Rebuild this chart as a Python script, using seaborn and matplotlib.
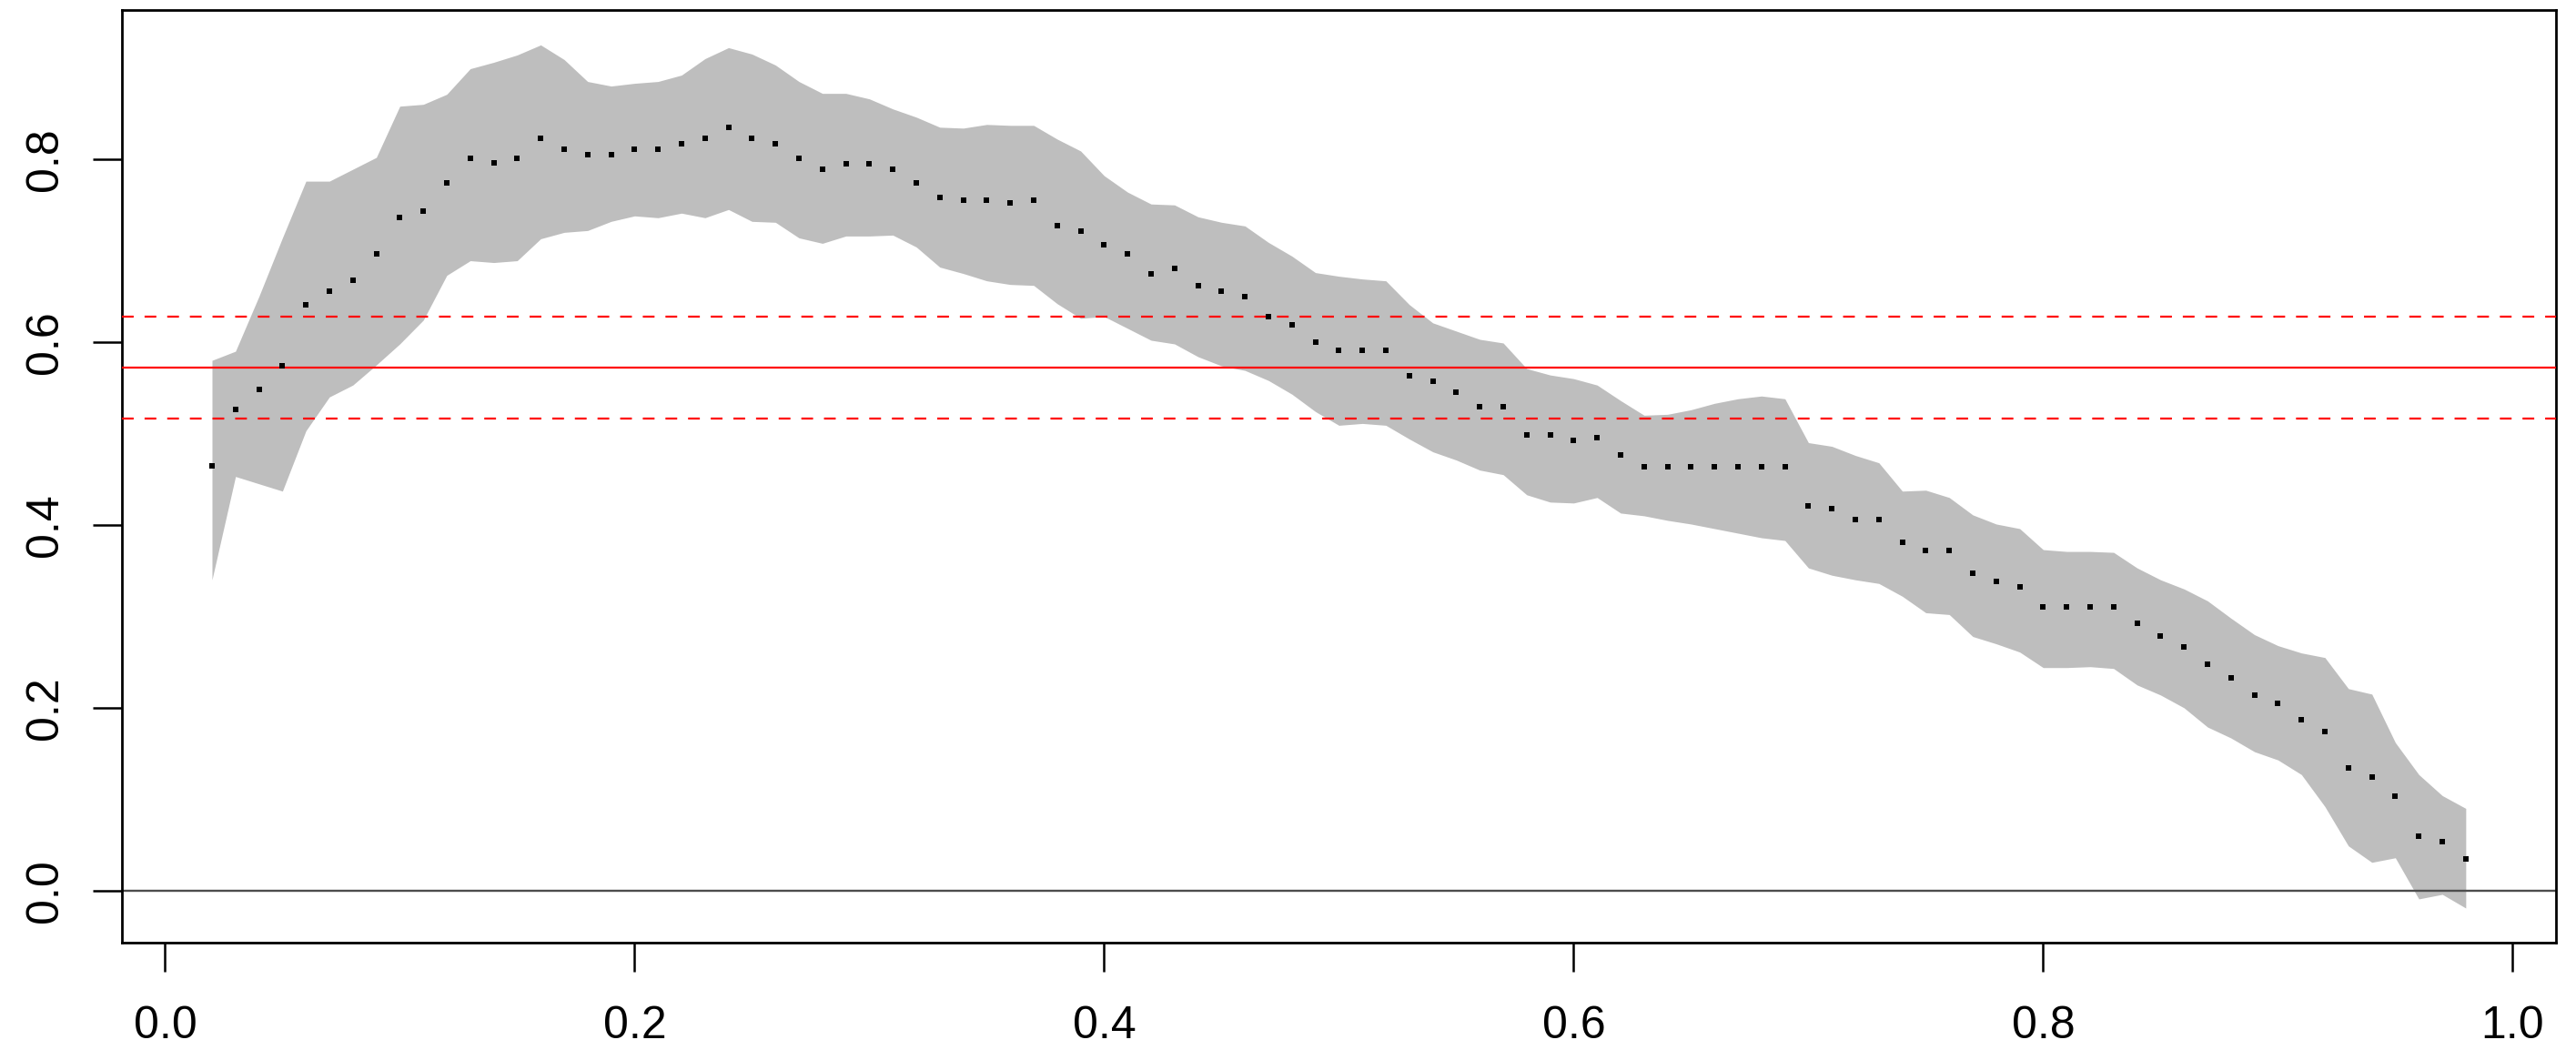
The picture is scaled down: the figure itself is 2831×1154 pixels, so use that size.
import numpy as np
import matplotlib
matplotlib.use('Agg')
from matplotlib import pyplot as plt
import seaborn as sns

# estimate grid 0.02 .. 0.98 (step 0.01)
x_grid = np.arange(2, 99) / 100

est_mean = [0.465, 0.526, 0.548, 0.574, 0.641, 0.656, 0.668, 0.696, 0.736, 0.743,
            0.774, 0.801, 0.796, 0.801, 0.823, 0.811, 0.805, 0.805, 0.811, 0.811,
            0.817, 0.823, 0.835, 0.823, 0.817, 0.801, 0.789, 0.795, 0.795, 0.789,
            0.774, 0.758, 0.755, 0.755, 0.752, 0.755, 0.727, 0.721, 0.706, 0.696,
            0.675, 0.681, 0.662, 0.656, 0.650, 0.628, 0.619, 0.600, 0.591, 0.591,
            0.591, 0.563, 0.557, 0.545, 0.529, 0.529, 0.498, 0.498, 0.492, 0.495,
            0.477, 0.464, 0.464, 0.464, 0.464, 0.464, 0.464, 0.464, 0.421, 0.418,
            0.406, 0.406, 0.381, 0.372, 0.372, 0.347, 0.338, 0.332, 0.310, 0.310,
            0.310, 0.310, 0.292, 0.279, 0.267, 0.248, 0.233, 0.214, 0.205, 0.187,
            0.174, 0.134, 0.124, 0.103, 0.060, 0.054, 0.035]

band_upper = [0.580, 0.590, 0.650, 0.714, 0.776, 0.776, 0.789, 0.802, 0.858, 0.860,
              0.871, 0.899, 0.906, 0.914, 0.925, 0.909, 0.885, 0.880, 0.883, 0.885,
              0.892, 0.910, 0.922, 0.915, 0.903, 0.885, 0.872, 0.872, 0.866, 0.855,
              0.846, 0.835, 0.834, 0.838, 0.837, 0.837, 0.822, 0.809, 0.782, 0.764,
              0.751, 0.750, 0.737, 0.731, 0.727, 0.709, 0.694, 0.676, 0.672, 0.669,
              0.667, 0.641, 0.621, 0.612, 0.603, 0.599, 0.571, 0.564, 0.560, 0.553,
              0.536, 0.520, 0.521, 0.526, 0.533, 0.538, 0.541, 0.538, 0.490, 0.486,
              0.476, 0.468, 0.437, 0.438, 0.430, 0.411, 0.401, 0.396, 0.373, 0.371,
              0.371, 0.370, 0.353, 0.340, 0.330, 0.317, 0.298, 0.280, 0.268, 0.260,
              0.255, 0.221, 0.215, 0.162, 0.127, 0.104, 0.090]

band_lower = [0.340, 0.453, 0.445, 0.437, 0.503, 0.540, 0.553, 0.575, 0.598, 0.624,
              0.673, 0.689, 0.687, 0.689, 0.713, 0.720, 0.722, 0.732, 0.738, 0.736,
              0.741, 0.736, 0.745, 0.732, 0.731, 0.714, 0.708, 0.716, 0.716, 0.717,
              0.704, 0.682, 0.675, 0.667, 0.663, 0.662, 0.642, 0.626, 0.628, 0.615,
              0.602, 0.598, 0.584, 0.574, 0.569, 0.558, 0.543, 0.524, 0.509, 0.511,
              0.509, 0.494, 0.480, 0.471, 0.460, 0.455, 0.433, 0.425, 0.424, 0.430,
              0.413, 0.410, 0.405, 0.401, 0.396, 0.391, 0.386, 0.383, 0.353, 0.345,
              0.340, 0.336, 0.322, 0.304, 0.302, 0.278, 0.270, 0.261, 0.244, 0.244,
              0.245, 0.243, 0.225, 0.214, 0.200, 0.179, 0.167, 0.152, 0.143, 0.127,
              0.092, 0.049, 0.031, 0.036, -0.009, -0.004, -0.019]

ref_value = 0.572
ref_limits = [0.516, 0.628]

x_ticks = [0.0, 0.2, 0.4, 0.6, 0.8, 1.0]
y_ticks = [0.0, 0.2, 0.4, 0.6, 0.8]
x_ticklabels = ['0.0', '0.2', '0.4', '0.6', '0.8', '1.0']
y_ticklabels = ['0.0', '0.2', '0.4', '0.6', '0.8']

sns.set_style("ticks")
plt.rcParams['font.family'] = ['Liberation Sans', 'DejaVu Sans']

fig = plt.figure(figsize=(28.31, 11.54), dpi=100)
ax = fig.add_axes([0.0473, 0.1023, 0.9449, 0.8878])

# confidence band
ax.fill_between(x_grid, band_lower, band_upper, color='#bebebe', linewidth=0, zorder=1)

# reference lines
ax.axhline(0, color='#4d4d4d', lw=1.7, zorder=2)
ax.axhline(ref_value, color='red', lw=1.6, zorder=3)
for v in ref_limits:
    ax.axhline(v, color='red', lw=1.6, ls=(0, (5.8, 5.4)), zorder=3)

# estimate
sns.scatterplot(x=x_grid, y=est_mean, marker='s', s=17, color='black',
                linewidth=0, ax=ax, zorder=4)

# R style 4% padding
xr = x_grid[-1] - x_grid[0]
ax.set_xlim(x_grid[0] - 0.04 * xr, x_grid[-1] + 0.04 * xr)
lo, hi = min(band_lower), max(band_upper)
ax.set_ylim(lo - 0.04 * (hi - lo), hi + 0.04 * (hi - lo))

ax.set_xticks(x_ticks)
ax.set_xticklabels(x_ticklabels)
ax.set_yticks(y_ticks)
ax.set_yticklabels(y_ticklabels, rotation=90, va='center')
ax.tick_params(axis='both', direction='out', length=23, width=1.8,
               labelsize=36, color='black', labelcolor='black')
ax.tick_params(axis='x', pad=27)
ax.tick_params(axis='y', pad=21)

for s in ax.spines.values():
    s.set_visible(True)
    s.set_color('black')
    s.set_linewidth(2)

ax.set_xlabel('')
ax.set_ylabel('')

fig.savefig('out.png', dpi=100)
plt.close()
